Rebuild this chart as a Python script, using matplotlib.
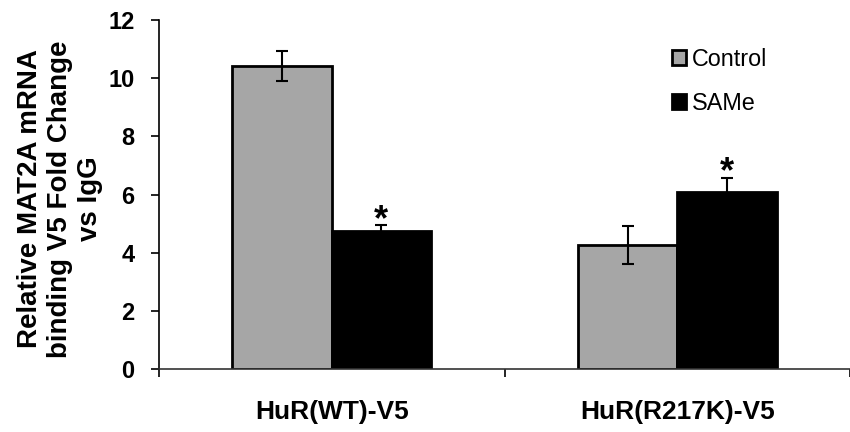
import matplotlib
matplotlib.use("Agg")
import matplotlib.pyplot as plt
import numpy as np

categories = ["HuR(WT)-V5", "HuR(R217K)-V5"]
series_names = ["Control", "SAMe"]
control_vals = [10.42, 4.28]
control_err = [0.50, 0.65]
same_vals = [4.76, 6.10]
same_err = [0.19, 0.48]
significant = [True, True]  # asterisks above SAMe bars
yticks = [0, 2, 4, 6, 8, 10, 12]
ylabel = "Relative MAT2A mRNA\nbinding V5 Fold Change\nvs IgG"

plt.rcParams['font.family'] = ['Liberation Sans', 'DejaVu Sans']

W, H = 850, 432
fig = plt.figure(figsize=(W / 100, H / 100), dpi=100)
ax = fig.add_axes([159 / W, (H - 369.3) / H, (W - 159) / W, 349.3 / H])

x = np.arange(len(categories))
bw = 0.2875
grey = "#A6A6A6"
b1 = ax.bar(x - bw / 2, control_vals, bw, color=grey, edgecolor="black", linewidth=2.0,
            label=series_names[0], zorder=2)
b2 = ax.bar(x + bw / 2, same_vals, bw, color="black", edgecolor="black", linewidth=2.0,
            label=series_names[1], zorder=2)
ax.errorbar(x - bw / 2, control_vals, yerr=control_err, fmt="none", ecolor="black",
            elinewidth=1.5, capsize=4, capthick=1.5, zorder=3)
ax.errorbar(x + bw / 2, same_vals, yerr=same_err, fmt="none", ecolor="black",
            elinewidth=1.5, capsize=4, capthick=1.5, zorder=3)

for xi, v, e, s in zip(x, same_vals, same_err, significant):
    if s:
        ax.annotate("*", (xi + bw / 2, v + e), xytext=(0, 3.5), textcoords="offset points",
                    ha="center", va="center", fontsize=26, fontweight="bold")

ax.set_xlim(-0.5, 1.5 - 4 / 347.5)
ax.set_ylim(0, 12)
ax.set_yticks(yticks)
ax.set_yticklabels([str(t) for t in yticks], fontsize=17, fontweight="bold")
ax.tick_params(axis="y", direction="out", length=5.5, width=1.2, pad=12)

ax.set_xticks([-0.5, 0.5, 1.5])
ax.set_xticklabels(["", "", ""])
ax.tick_params(axis="x", which="major", direction="out", length=5.8, width=1.2)
ax.set_xticks(x, minor=True)
ax.set_xticklabels(categories, minor=True, fontsize=19, fontweight="bold")
ax.tick_params(axis="x", which="minor", length=0, pad=22)

for side in ["top", "right"]:
    ax.spines[side].set_visible(False)
ax.spines["left"].set_linewidth(1.2)
ax.spines["bottom"].set_linewidth(1.2)
ax.spines["bottom"].set_color("#333333")

fig.text(60 / W, 1 - 199 / H, ylabel, rotation=90, ha="center", va="center",
         fontsize=20, fontweight="bold", multialignment="center", linespacing=1.2)

leg = ax.legend(handles=[b1, b2], labels=series_names, loc="upper left",
                bbox_to_anchor=(671.7 / W, 1 - 48 / H), bbox_transform=fig.transFigure,
                frameon=False, fontsize=16.8, handlelength=0.6, handleheight=0.6,
                handletextpad=0.25, labelspacing=0.9, borderpad=0, borderaxespad=0)

fig.savefig("out.png", dpi=100)
